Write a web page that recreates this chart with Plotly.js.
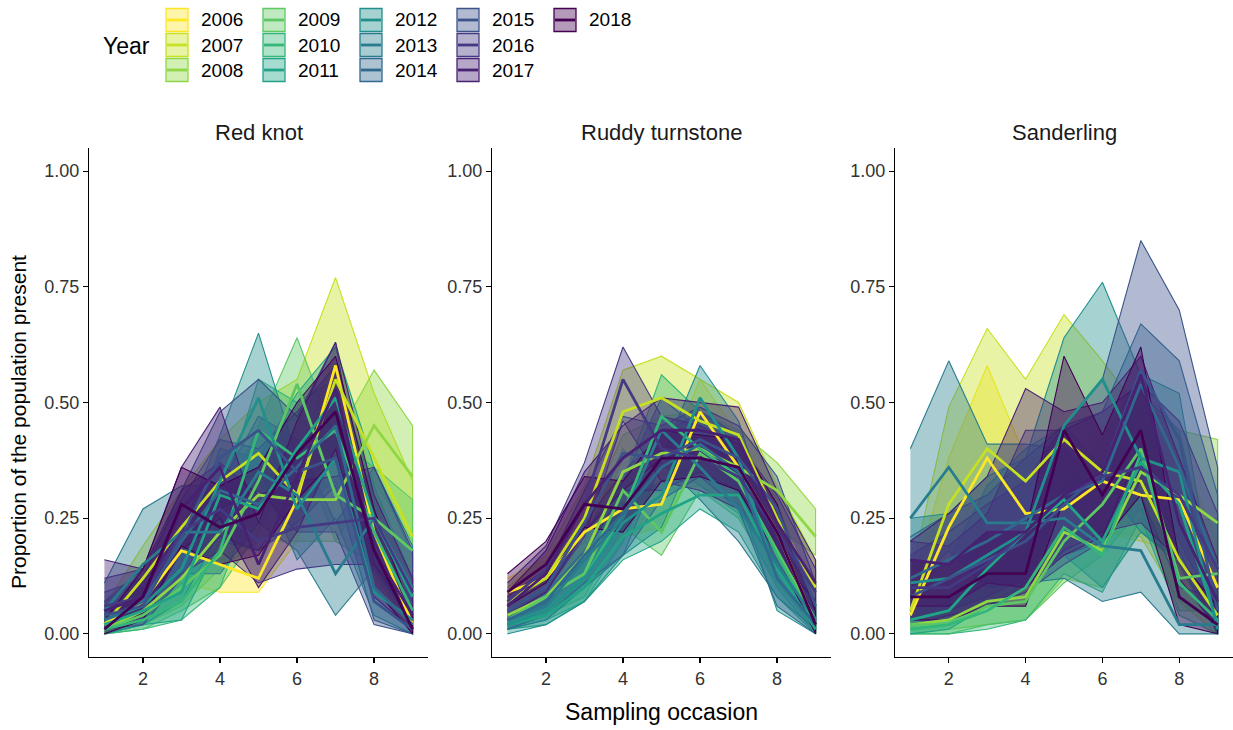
<!DOCTYPE html>
<html>
<head>
<meta charset="utf-8">
<script src="https://cdn.plot.ly/plotly-3.0.1.min.js"></script>
<style>
  html, body { margin: 0; padding: 0; background: #ffffff; }
  #chart { width: 1233px; height: 730px; }
</style>
</head>
<body>
<div id="chart"></div>
<script>
// ---------------- DATA ----------------
const years = [2006, 2007, 2008, 2009, 2010, 2011, 2012, 2013, 2014, 2015, 2016, 2017, 2018];
const occasions = [1, 2, 3, 4, 5, 6, 7, 8, 9];
const speciesNames = ["Red knot", "Ruddy turnstone", "Sanderling"];
const yTickVals = [0, 0.25, 0.5, 0.75, 1];
const yTickText = ["0.00", "0.25", "0.50", "0.75", "1.00"];
const xTickVals = [2, 4, 6, 8];

// viridis (reversed): 2006 yellow ... 2018 dark purple
const yearColors = ["#FDE725", "#C7E020", "#8FD744", "#5DC863", "#35B779", "#21A486", "#21908C",
                    "#287C8E", "#31688E", "#3B528B", "#443A83", "#482173", "#440154"];

// Red knot: mean, lower, upper (rows = years, cols = occasions 1..9)
const redKnotMean = [
  [0.02,0.07,0.18,0.15,0.12,0.29,0.58,0.22,0.02],
  [0.02,0.12,0.23,0.33,0.39,0.30,0.55,0.38,0.21],
  [0.01,0.05,0.12,0.22,0.30,0.29,0.29,0.45,0.34],
  [0.01,0.04,0.10,0.17,0.33,0.54,0.30,0.25,0.18],
  [0.01,0.03,0.07,0.18,0.44,0.38,0.44,0.22,0.05],
  [0.02,0.05,0.09,0.30,0.27,0.40,0.51,0.25,0.08],
  [0.03,0.06,0.14,0.33,0.51,0.27,0.38,0.09,0.03],
  [0.05,0.15,0.22,0.22,0.35,0.30,0.13,0.25,0.10],
  [0.03,0.07,0.20,0.31,0.28,0.36,0.45,0.10,0.02],
  [0.04,0.06,0.21,0.38,0.44,0.35,0.38,0.07,0.01],
  [0.06,0.08,0.22,0.27,0.20,0.23,0.24,0.25,0.09],
  [0.05,0.08,0.27,0.36,0.15,0.34,0.53,0.18,0.04],
  [0.01,0.08,0.28,0.23,0.26,0.39,0.48,0.18,0.01]
];
const redKnotLow = [
  [0.00,0.03,0.11,0.09,0.09,0.20,0.45,0.12,0.00],
  [0.00,0.06,0.15,0.24,0.30,0.22,0.35,0.25,0.10],
  [0.00,0.02,0.06,0.14,0.20,0.20,0.20,0.33,0.20],
  [0.00,0.01,0.05,0.10,0.22,0.42,0.20,0.15,0.08],
  [0.00,0.01,0.03,0.10,0.32,0.27,0.33,0.13,0.01],
  [0.00,0.02,0.03,0.20,0.18,0.30,0.40,0.14,0.02],
  [0.00,0.02,0.07,0.22,0.36,0.16,0.25,0.04,0.00],
  [0.01,0.08,0.13,0.13,0.24,0.18,0.04,0.14,0.03],
  [0.01,0.03,0.12,0.21,0.18,0.24,0.32,0.03,0.00],
  [0.01,0.02,0.12,0.27,0.31,0.22,0.22,0.02,0.00],
  [0.02,0.04,0.13,0.18,0.11,0.14,0.15,0.15,0.03],
  [0.01,0.03,0.18,0.25,0.10,0.22,0.40,0.08,0.01],
  [0.00,0.03,0.19,0.15,0.17,0.29,0.38,0.10,0.00]
];
const redKnotHigh = [
  [0.05,0.13,0.26,0.22,0.17,0.38,0.62,0.32,0.05],
  [0.06,0.19,0.31,0.42,0.50,0.55,0.77,0.52,0.33],
  [0.04,0.10,0.20,0.32,0.42,0.40,0.42,0.57,0.45],
  [0.03,0.08,0.17,0.26,0.45,0.64,0.42,0.36,0.29],
  [0.03,0.07,0.13,0.28,0.55,0.50,0.55,0.32,0.12],
  [0.05,0.10,0.16,0.40,0.38,0.52,0.62,0.36,0.17],
  [0.07,0.12,0.22,0.43,0.65,0.38,0.50,0.17,0.08],
  [0.11,0.27,0.32,0.32,0.47,0.42,0.24,0.36,0.19],
  [0.07,0.14,0.29,0.42,0.40,0.48,0.58,0.20,0.07],
  [0.09,0.12,0.31,0.48,0.55,0.47,0.63,0.15,0.05],
  [0.12,0.14,0.31,0.37,0.30,0.33,0.34,0.36,0.18],
  [0.16,0.14,0.36,0.49,0.24,0.46,0.63,0.30,0.12],
  [0.03,0.14,0.36,0.32,0.36,0.50,0.60,0.27,0.04]
];

// Ruddy turnstone
const turnstoneMean = [
  [0.09,0.12,0.22,0.27,0.28,0.48,0.36,0.22,0.02],
  [0.07,0.12,0.25,0.48,0.51,0.46,0.43,0.25,0.10],
  [0.04,0.08,0.17,0.35,0.39,0.40,0.36,0.31,0.21],
  [0.03,0.08,0.13,0.31,0.22,0.39,0.33,0.18,0.03],
  [0.02,0.05,0.12,0.26,0.47,0.40,0.34,0.17,0.02],
  [0.02,0.04,0.10,0.21,0.26,0.30,0.30,0.14,0.01],
  [0.02,0.05,0.12,0.24,0.30,0.51,0.38,0.12,0.02],
  [0.03,0.06,0.16,0.25,0.44,0.36,0.27,0.15,0.03],
  [0.03,0.07,0.17,0.26,0.36,0.41,0.35,0.12,0.02],
  [0.05,0.10,0.24,0.39,0.38,0.42,0.38,0.27,0.06],
  [0.07,0.14,0.28,0.55,0.40,0.38,0.34,0.22,0.09],
  [0.06,0.13,0.28,0.38,0.44,0.44,0.42,0.24,0.11],
  [0.09,0.15,0.28,0.27,0.38,0.38,0.36,0.22,0.02]
];
const turnstoneLow = [
  [0.06,0.08,0.16,0.21,0.23,0.40,0.29,0.15,0.00],
  [0.04,0.08,0.18,0.38,0.42,0.38,0.35,0.18,0.05],
  [0.02,0.05,0.11,0.28,0.31,0.32,0.28,0.23,0.17],
  [0.01,0.04,0.08,0.23,0.17,0.31,0.25,0.11,0.01],
  [0.01,0.03,0.07,0.20,0.38,0.32,0.26,0.10,0.00],
  [0.01,0.02,0.07,0.16,0.20,0.27,0.22,0.08,0.00],
  [0.00,0.02,0.07,0.17,0.23,0.42,0.30,0.05,0.00],
  [0.01,0.03,0.10,0.17,0.37,0.29,0.20,0.08,0.01],
  [0.01,0.04,0.11,0.17,0.29,0.34,0.27,0.06,0.00],
  [0.03,0.06,0.17,0.31,0.31,0.35,0.31,0.20,0.02],
  [0.04,0.09,0.21,0.46,0.33,0.31,0.27,0.15,0.05],
  [0.04,0.09,0.22,0.31,0.38,0.38,0.35,0.17,0.07],
  [0.06,0.11,0.23,0.22,0.33,0.34,0.31,0.17,0.00]
];
const turnstoneHigh = [
  [0.12,0.16,0.28,0.34,0.35,0.55,0.43,0.29,0.05],
  [0.10,0.17,0.32,0.57,0.60,0.55,0.50,0.32,0.16],
  [0.07,0.12,0.24,0.43,0.47,0.48,0.44,0.37,0.27],
  [0.06,0.12,0.20,0.40,0.30,0.47,0.41,0.26,0.07],
  [0.05,0.09,0.18,0.33,0.56,0.48,0.42,0.25,0.06],
  [0.04,0.07,0.16,0.28,0.33,0.37,0.38,0.22,0.04],
  [0.04,0.09,0.18,0.31,0.38,0.58,0.46,0.20,0.05],
  [0.05,0.10,0.22,0.33,0.51,0.44,0.35,0.22,0.07],
  [0.06,0.11,0.24,0.35,0.43,0.48,0.43,0.19,0.06],
  [0.08,0.14,0.31,0.47,0.45,0.49,0.45,0.34,0.11],
  [0.11,0.19,0.37,0.62,0.47,0.45,0.41,0.30,0.14],
  [0.09,0.18,0.35,0.45,0.51,0.50,0.49,0.31,0.16],
  [0.13,0.20,0.34,0.33,0.44,0.43,0.42,0.28,0.05]
];

// Sanderling
const sanderlingMean = [
  [0.04,0.23,0.38,0.26,0.27,0.33,0.30,0.29,0.10],
  [0.05,0.28,0.40,0.33,0.42,0.35,0.33,0.16,0.04],
  [0.02,0.03,0.07,0.08,0.22,0.18,0.35,0.30,0.24],
  [0.02,0.02,0.06,0.07,0.20,0.28,0.40,0.12,0.13],
  [0.01,0.02,0.05,0.10,0.23,0.17,0.39,0.11,0.03],
  [0.03,0.05,0.14,0.22,0.29,0.20,0.37,0.28,0.02],
  [0.11,0.12,0.17,0.22,0.45,0.55,0.38,0.35,0.01],
  [0.25,0.36,0.24,0.24,0.25,0.19,0.18,0.02,0.02],
  [0.12,0.16,0.20,0.25,0.30,0.33,0.54,0.36,0.14],
  [0.08,0.12,0.16,0.20,0.28,0.35,0.57,0.42,0.05],
  [0.10,0.10,0.15,0.22,0.30,0.34,0.36,0.30,0.14],
  [0.16,0.15,0.22,0.22,0.30,0.35,0.56,0.24,0.07],
  [0.08,0.08,0.13,0.13,0.44,0.30,0.44,0.08,0.02]
];
const sanderlingLow = [
  [0.01,0.10,0.22,0.16,0.18,0.22,0.20,0.18,0.03],
  [0.01,0.12,0.24,0.20,0.27,0.22,0.21,0.07,0.00],
  [0.00,0.01,0.02,0.03,0.12,0.10,0.22,0.18,0.12],
  [0.00,0.00,0.02,0.03,0.11,0.17,0.27,0.05,0.05],
  [0.00,0.00,0.01,0.03,0.13,0.09,0.25,0.04,0.00],
  [0.00,0.01,0.06,0.11,0.17,0.10,0.22,0.15,0.00],
  [0.02,0.03,0.07,0.10,0.30,0.33,0.22,0.16,0.00],
  [0.10,0.18,0.10,0.11,0.12,0.07,0.09,0.00,0.00],
  [0.03,0.05,0.08,0.12,0.17,0.20,0.36,0.20,0.04],
  [0.02,0.04,0.06,0.09,0.15,0.20,0.33,0.18,0.00],
  [0.03,0.03,0.06,0.10,0.18,0.22,0.24,0.16,0.05],
  [0.06,0.06,0.11,0.10,0.17,0.21,0.40,0.12,0.01],
  [0.03,0.03,0.06,0.06,0.29,0.20,0.30,0.02,0.00]
];
const sanderlingHigh = [
  [0.10,0.38,0.58,0.38,0.38,0.45,0.42,0.40,0.20],
  [0.12,0.49,0.66,0.55,0.69,0.59,0.48,0.30,0.12],
  [0.06,0.09,0.16,0.18,0.35,0.30,0.50,0.44,0.42],
  [0.06,0.08,0.14,0.18,0.32,0.42,0.56,0.24,0.25],
  [0.05,0.07,0.14,0.22,0.36,0.30,0.54,0.22,0.09],
  [0.10,0.16,0.32,0.40,0.45,0.36,0.52,0.44,0.07],
  [0.25,0.26,0.34,0.38,0.64,0.76,0.56,0.52,0.05],
  [0.40,0.59,0.41,0.41,0.40,0.32,0.30,0.10,0.08],
  [0.21,0.26,0.30,0.38,0.45,0.48,0.67,0.59,0.30],
  [0.17,0.22,0.28,0.33,0.45,0.55,0.85,0.70,0.36],
  [0.20,0.19,0.26,0.44,0.44,0.48,0.54,0.46,0.26],
  [0.20,0.26,0.34,0.53,0.48,0.50,0.60,0.38,0.16],
  [0.16,0.15,0.22,0.22,0.60,0.43,0.62,0.16,0.06]
];

// ---------------- BUILD ----------------
const FONT = "Liberation Sans, Arial, Helvetica, sans-serif";
const speciesData = [
  {mean: redKnotMean, low: redKnotLow, high: redKnotHigh},
  {mean: turnstoneMean, low: turnstoneLow, high: turnstoneHigh},
  {mean: sanderlingMean, low: sanderlingLow, high: sanderlingHigh}
];

function rgba(hex, a) {
  const r = parseInt(hex.slice(1, 3), 16), g = parseInt(hex.slice(3, 5), 16), b = parseInt(hex.slice(5, 7), 16);
  return `rgba(${r},${g},${b},${a})`;
}
const FILL_ALPHA = 0.4;

const traces = [];
speciesData.forEach((sp, s) => {
  const xa = s === 0 ? "x" : "x" + (s + 1);
  const ya = s === 0 ? "y" : "y" + (s + 1);
  const back = occasions.slice().reverse();
  years.forEach((yr, i) => {
    traces.push({
      type: "scatter", mode: "lines", xaxis: xa, yaxis: ya,
      x: occasions.concat(back),
      y: sp.high[i].concat(sp.low[i].slice().reverse()),
      fill: "toself", fillcolor: rgba(yearColors[i], FILL_ALPHA),
      line: {color: yearColors[i], width: 1.1},
      showlegend: false, hoverinfo: "skip"
    });
  });
  years.forEach((yr, i) => {
    traces.push({
      type: "scatter", mode: "lines", xaxis: xa, yaxis: ya,
      x: occasions, y: sp.mean[i], name: String(yr),
      line: {color: yearColors[i], width: 2.8},
      showlegend: false
    });
  });
});

// pixel -> paper helpers (plot area: x 89..1233, y 148..657)
const L = 89, T = 148, W = 1144, H = 509;
const px = x => (x - L) / W;
const py = y => (T + H - y) / H;

const axisCommon = {
  showline: true, linecolor: "#000", linewidth: 1.2,
  ticks: "outside", ticklen: 5, tickcolor: "#000", tickwidth: 1.2,
  showgrid: false, zeroline: false,
  tickfont: {family: FONT, size: 18, color: "#333333"}
};
const xDomains = [[px(89), px(428)], [px(492), px(831)], [px(895), 1]];

const layout = {
  width: 1233, height: 730,
  margin: {l: L, r: 0, t: T, b: 730 - T - H},
  paper_bgcolor: "#fff", plot_bgcolor: "#fff",
  showlegend: false,
  font: {family: FONT, color: "#000"},
  shapes: [], annotations: []
};
for (let s = 0; s < 3; s++) {
  const suf = s === 0 ? "" : String(s + 1);
  layout["xaxis" + suf] = Object.assign({}, axisCommon, {
    domain: xDomains[s], range: [0.6, 9.4], tickvals: xTickVals,
    anchor: "y" + suf
  });
  layout["yaxis" + suf] = Object.assign({}, axisCommon, {
    domain: [0, 1], range: [-0.05, 1.05], tickvals: yTickVals, ticktext: yTickText,
    anchor: "x" + suf
  });
  layout.annotations.push({
    xref: "paper", yref: "paper", x: (xDomains[s][0] + xDomains[s][1]) / 2, y: py(133),
    text: speciesNames[s], showarrow: false, xanchor: "center", yanchor: "middle",
    font: {family: FONT, size: 22, color: "#1a1a1a"}
  });
}
// axis titles
layout.annotations.push({
  xref: "paper", yref: "paper", x: px(661), y: py(712), text: "Sampling occasion",
  showarrow: false, xanchor: "center", yanchor: "middle",
  font: {family: FONT, size: 23, color: "#000"}
});
layout.annotations.push({
  xref: "paper", yref: "paper", x: px(18), y: py(422), text: "Proportion of the population present",
  showarrow: false, xanchor: "center", yanchor: "middle", textangle: -90,
  font: {family: FONT, size: 21, color: "#000"}
});

// legend (3 rows, column-major)
layout.annotations.push({
  xref: "paper", yref: "paper", x: px(101), y: py(46), text: "Year",
  showarrow: false, xanchor: "left", yanchor: "middle",
  font: {family: FONT, size: 23, color: "#000"}
});
years.forEach((yr, i) => {
  const col = Math.floor(i / 3), row = i % 3;
  const x0 = 166 + 97 * col, cy = 20 + 25 * row;
  layout.shapes.push({
    type: "rect", xref: "paper", yref: "paper",
    x0: px(x0), x1: px(x0 + 22), y0: py(cy + 11.5), y1: py(cy - 11.5),
    fillcolor: rgba(yearColors[i], FILL_ALPHA), line: {color: yearColors[i], width: 1.3}
  });
  layout.shapes.push({
    type: "line", xref: "paper", yref: "paper",
    x0: px(x0 + 1), x1: px(x0 + 21), y0: py(cy), y1: py(cy),
    line: {color: yearColors[i], width: 2.8}
  });
  layout.annotations.push({
    xref: "paper", yref: "paper", x: px(x0 + 33), y: py(cy), text: String(yr),
    showarrow: false, xanchor: "left", yanchor: "middle",
    font: {family: FONT, size: 19, color: "#000"}
  });
});

Plotly.newPlot("chart", traces, layout, {staticPlot: true, displayModeBar: false});
</script>
</body>
</html>
